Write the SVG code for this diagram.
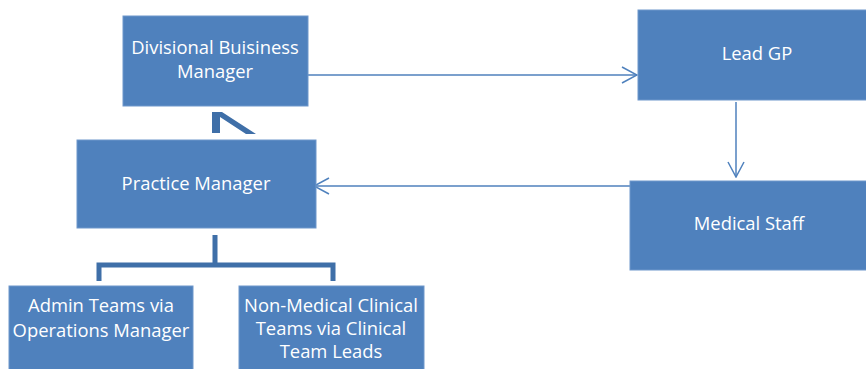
<svg xmlns="http://www.w3.org/2000/svg" width="866" height="369" viewBox="0 0 866 369">
  <style>
    .box { fill: #4f81bd; stroke: #6f97cb; stroke-width: 1; }
    .lbl { fill: #ffffff; font-family: "Open Sans", "Liberation Sans", sans-serif; font-size: 18.4px; text-anchor: middle; }
    .flow { fill: none; stroke: #4f81bd; stroke-width: 1.5; }
    .tree { fill: none; stroke: #3f6fa8; stroke-width: 5; }
  </style>
  <defs>
    <marker id="chev" viewBox="0 0 20 20" refX="19" refY="10" markerWidth="20" markerHeight="20" markerUnits="userSpaceOnUse" orient="auto">
      <path d="M4,2 L19,10 L4,18" fill="none" stroke="#4f81bd" stroke-width="1.5"/>
    </marker>
  </defs>

  <rect width="866" height="369" fill="#ffffff"/>

  <g id="connectors">
    <line class="flow" x1="308" y1="75" x2="637" y2="75" marker-end="url(#chev)"/>
    <line class="flow" x1="736" y1="102" x2="736" y2="177" marker-end="url(#chev)"/>
    <line class="flow" x1="630" y1="186" x2="314" y2="186" marker-end="url(#chev)"/>
    <path class="tree" d="M215,235 V265 M99,281 V265 H333 V281"/>
    <path d="M212,112 H222 L256,134 H246 L220,117 V133 H212 Z" fill="#3f6fa8"/>
  </g>

  <g id="divisional-manager">
    <rect class="box" x="123" y="16" width="185" height="90"/>
    <text class="lbl" x="215" y="54">Divisional Buisiness</text>
    <text class="lbl" x="215" y="78">Manager</text>
  </g>

  <g id="practice-manager">
    <rect class="box" x="77" y="140" width="239" height="88"/>
    <text class="lbl" x="196" y="190">Practice Manager</text>
  </g>

  <g id="lead-gp">
    <rect class="box" x="638" y="10" width="240" height="90"/>
    <text class="lbl" x="757" y="60">Lead GP</text>
  </g>

  <g id="medical-staff">
    <rect class="box" x="630" y="181" width="248" height="89"/>
    <text class="lbl" x="749" y="230">Medical Staff</text>
  </g>

  <g id="admin-teams">
    <rect class="box" x="9" y="286" width="184" height="90"/>
    <text class="lbl" x="101" y="312">Admin Teams via</text>
    <text class="lbl" x="101" y="337">Operations Manager</text>
  </g>

  <g id="clinical-teams">
    <rect class="box" x="239" y="286" width="185" height="90"/>
    <text class="lbl" x="331" y="312">Non-Medical Clinical</text>
    <text class="lbl" x="331" y="335">Teams via Clinical</text>
    <text class="lbl" x="331" y="358">Team Leads</text>
  </g>
</svg>
